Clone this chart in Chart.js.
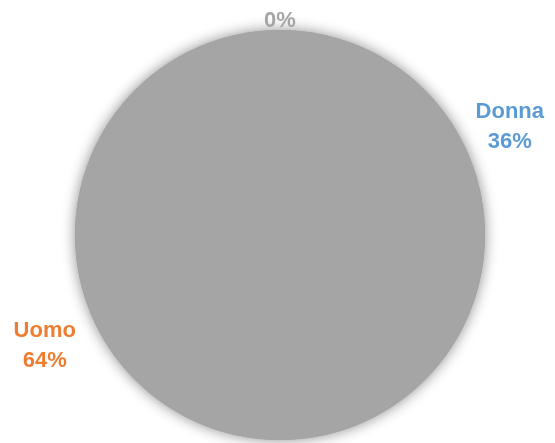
<!DOCTYPE html>
<html>
<head>
<meta charset="utf-8">
<script src="https://cdn.jsdelivr.net/npm/chart.js@4/dist/chart.umd.min.js"></script>
<style>
    html, body { margin: 0; padding: 0; background: #ffffff; }
    #wrap { width: 555px; height: 443px; }
</style>
</head>
<body>
<div id="wrap"><canvas id="piePlot" width="555" height="443"></canvas></div>
<script>
// Data
var categories = ['Donna', 'Uomo', ''];
var shares = [36, 64, 0];
var percentLabels = ['36%', '64%', '0%'];

var labelColors = ['#5b9bd5', '#ed7d31', '#a5a5a5'];
var sliceColor = '#a5a5a5';
// extra distance of each label from the rim
var labelGap = [49, 55, 9];

// soft shadow under the whole pie
var pieShadow = {
    id: 'pieShadow',
    beforeDatasetsDraw: function(chart) {
        var arc = chart.getDatasetMeta(0).data[0];
        if (!arc) return;
        var ctx = chart.ctx;
        ctx.save();
        ctx.shadowColor = 'rgba(0,0,0,0.45)';
        ctx.shadowBlur = 14;
        ctx.shadowOffsetX = 0;
        ctx.shadowOffsetY = 0;
        ctx.fillStyle = sliceColor;
        ctx.beginPath();
        ctx.arc(arc.x, arc.y, arc.outerRadius, 0, Math.PI * 2);
        ctx.fill();
        ctx.restore();
    }
};

// outside labels, placed from each slice's own angle
var outsideLabels = {
    id: 'outsideLabels',
    afterDatasetsDraw: function(chart) {
        var ctx = chart.ctx;
        var arcs = chart.getDatasetMeta(0).data;
        ctx.save();
        ctx.font = 'bold 22px "Liberation Sans", Arial, sans-serif';
        ctx.textAlign = 'center';
        ctx.textBaseline = 'middle';
        arcs.forEach(function(arc, i) {
            var mid = (arc.startAngle + arc.endAngle) / 2;
            var d = arc.outerRadius + labelGap[i];
            var x = arc.x + Math.cos(mid) * d;
            var y = arc.y + Math.sin(mid) * d;
            ctx.fillStyle = labelColors[i];
            if (categories[i]) {
                ctx.fillText(categories[i], x, y - 15);
                ctx.fillText(percentLabels[i], x, y + 15);
            } else {
                ctx.fillText(percentLabels[i], x, y);
            }
        });
        ctx.restore();
    }
};

new Chart(document.getElementById('piePlot'), {
    type: 'pie',
    data: {
        labels: categories,
        datasets: [{
            data: shares,
            backgroundColor: [sliceColor, sliceColor, sliceColor],
            borderWidth: 0
        }]
    },
    options: {
        responsive: false,
        animation: false,
        layout: {
            padding: { top: 30, bottom: 3, left: 75, right: 70 }
        },
        plugins: {
            legend: { display: false },
            tooltip: { enabled: false }
        }
    },
    plugins: [pieShadow, outsideLabels]
});
</script>
</body>
</html>
